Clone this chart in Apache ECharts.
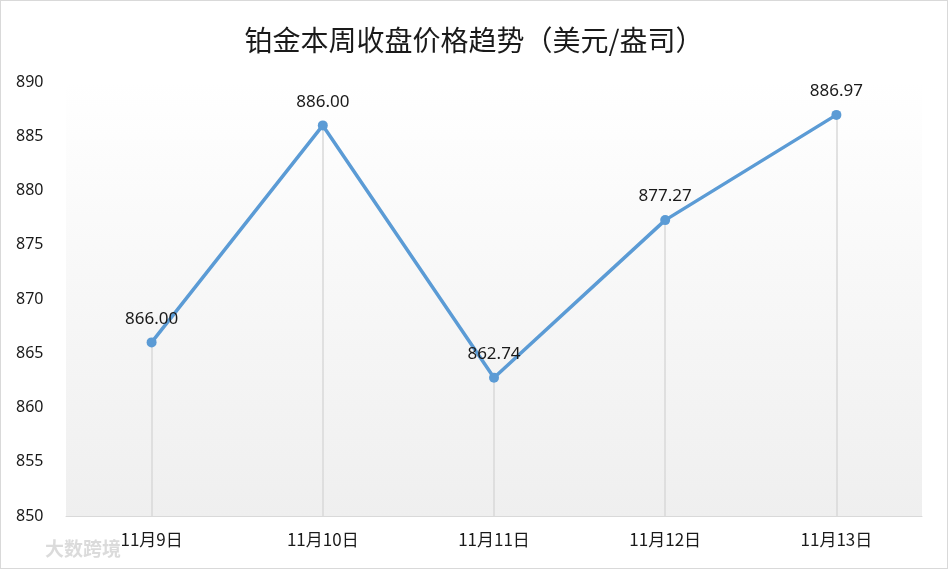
<!DOCTYPE html>
<html><head><meta charset="utf-8">
<script src="https://cdn.jsdelivr.net/npm/echarts@6/dist/echarts.min.js"></script>
<style>html,body{margin:0;padding:0;background:#fff}#c{width:948px;height:569px;box-sizing:border-box;border:1px solid #d9d9d9}</style>
</head><body><div id="c"></div>
<script>
const categories = ['11月9日','11月10日','11月11日','11月12日','11月13日'];
const prices = [866.00, 886.00, 862.74, 877.27, 886.97];
const yMin = 850, yMax = 890, yStep = 5;
const titleText = '铂金本周收盘价格趋势（美元/盎司）';

const chart = echarts.init(document.getElementById('c'));
const dropLines = prices.map((v, i) => [
  { coord: [categories[i], v], symbol: 'none' },
  { coord: [categories[i], yMin], symbol: 'none' }
]);
chart.setOption({
  animation: false,
  title: { text: titleText, left: 'center', top: 20,
    textStyle: { fontFamily: '"Noto Sans CJK SC", sans-serif', fontSize: 28, fontWeight: 'normal', color: '#1a1a1a' } },
  grid: { left: 65, right: 25, top: 81, bottom: 52, show: true, borderWidth: 0,
    backgroundColor: new echarts.graphic.LinearGradient(0, 0, 0, 1, [
      { offset: 0, color: '#ffffff' }, { offset: 1, color: '#efefef' }]) },
  xAxis: { type: 'category', data: categories, boundaryGap: true,
    axisLine: { lineStyle: { color: '#d9d9d9', width: 1 } },
    axisTick: { show: false },
    axisLabel: { color: '#1a1a1a', fontSize: 17, margin: 15, fontFamily: '"Noto Sans CJK SC", sans-serif' } },
  yAxis: { type: 'value', min: yMin, max: yMax, interval: yStep,
    axisLine: { show: false }, axisTick: { show: false }, splitLine: { show: false },
    axisLabel: { color: '#1a1a1a', fontSize: 16, align: 'left', margin: 50, fontFamily: '"Noto Sans", sans-serif' } },
  graphic: [{ type: 'text', left: 44, top: 538, style: { text: '大数跨境', fontSize: 19, fontWeight: 'bold', fill: 'rgba(190,190,190,0.55)', fontFamily: '"Noto Sans CJK SC", sans-serif' } }],
  series: [{
    type: 'line', data: prices, symbol: 'circle', symbolSize: 10,
    lineStyle: { color: '#5b9bd5', width: 3.5 }, itemStyle: { color: '#5b9bd5' },
    label: { show: true, position: 'top', distance: 10, color: '#1a1a1a', fontSize: 17,
      fontFamily: '"Noto Sans", sans-serif', formatter: p => p.value.toFixed(2) },
    markLine: { silent: true, symbol: 'none', label: { show: false }, z: 1,
      lineStyle: { color: '#d9d9d9', width: 1.5, type: 'solid' }, data: dropLines },
    z: 3
  }]
});
</script></body></html>
